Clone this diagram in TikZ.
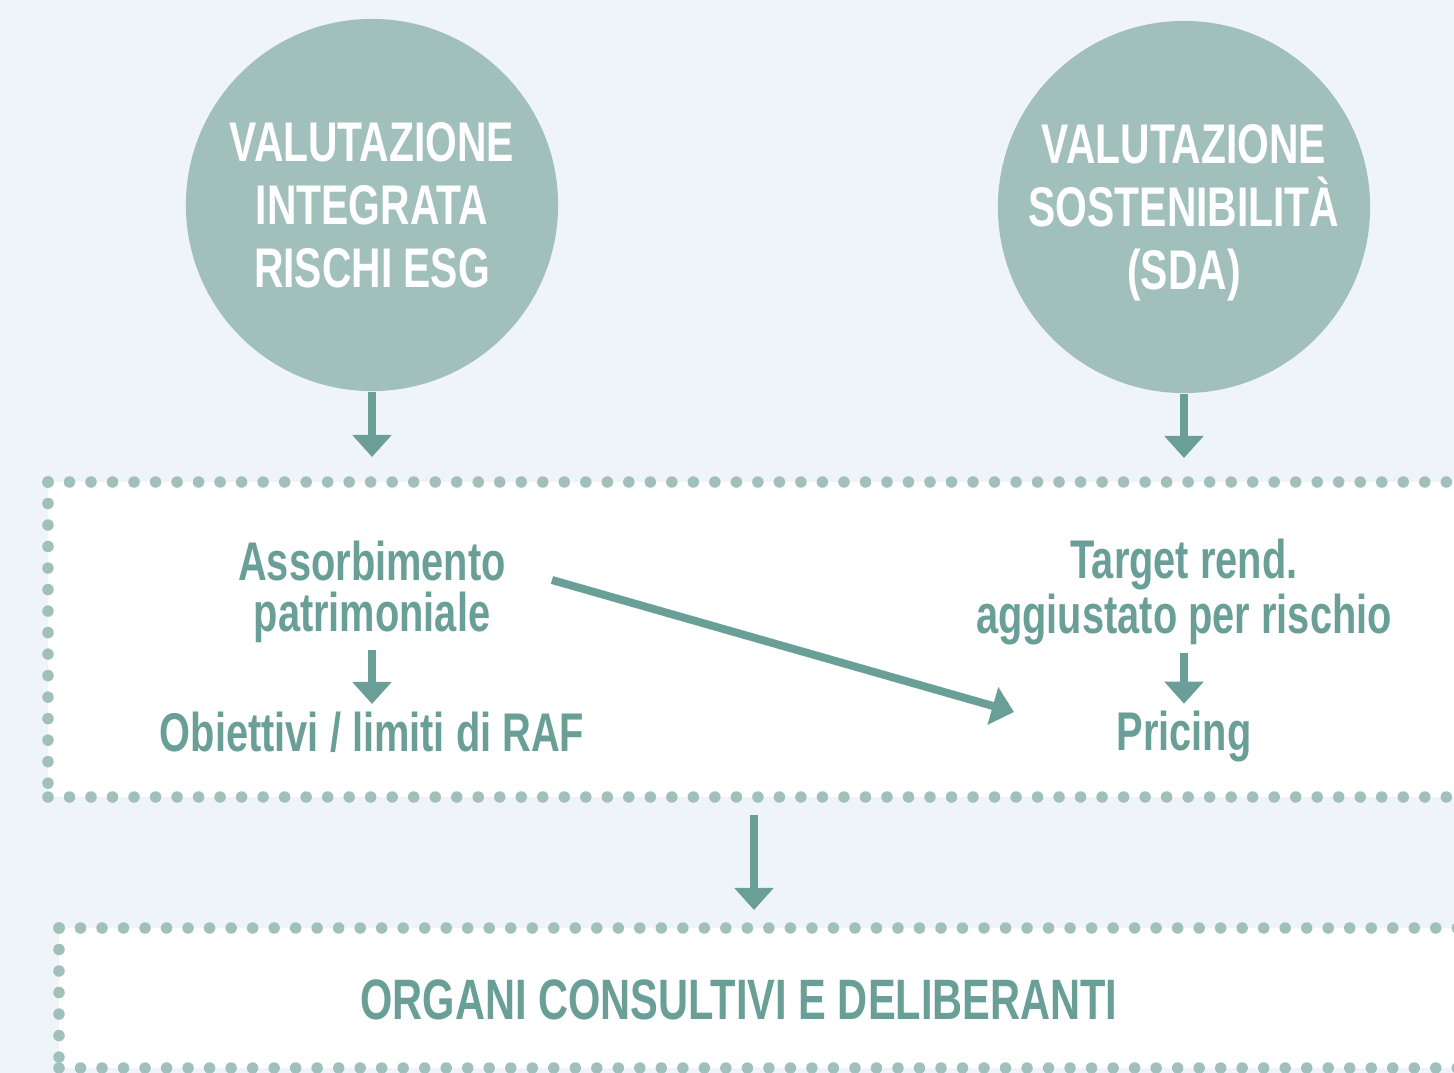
\documentclass[tikz,border=0pt]{standalone}
\usepackage{fontspec}
\setmainfont{Liberation Sans}[FakeStretch=0.73]
\usetikzlibrary{arrows.meta}

\definecolor{bgblue}{HTML}{EFF4F8}
\definecolor{sage}{HTML}{A2C0BB}
\definecolor{tealdark}{HTML}{6A9F98}

\begin{document}
\begin{tikzpicture}[x=0.01cm, y=-0.01cm,
  bubble/.style={circle, fill=sage, minimum size=3.72cm, inner sep=0pt, text=white, align=center,
    font=\bfseries\fontsize{15.9}{17.9}\selectfont},
  label/.style={text=tealdark, align=center, inner sep=2pt, font=\bfseries\fontsize{15.5}{14.3}\selectfont},
  dotline/.style={draw=sage, line width=0.115cm, line cap=round, dash pattern=on 0pt off 0.215cm},
  flow/.style={draw=tealdark, line width=0.08cm, -{Triangle[width=0.38cm,length=0.22cm]}},]
% background
\clip (0,0) rectangle (1454,1073);
\fill[bgblue] (0,0) rectangle (1454,1073);
% panels
\fill[white] (48,482) rectangle (1500,797);
\draw[dotline] (48,482) -- (1500,482);
\draw[dotline] (48,797) -- (1500,797);
\draw[dotline] (48,482) -- (48,797);
\fill[white] (59,928) rectangle (1500,1068);
\draw[dotline] (59,928) -- (1500,928);
\draw[dotline] (59,1068) -- (1500,1068);
\draw[dotline] (59,928) -- (59,1068);
% nodes
\node[bubble] (esg) at (372,205) {VALUTAZIONE\\INTEGRATA\\RISCHI ESG};
\node[bubble] (sda) at (1184,207) {VALUTAZIONE\\SOSTENIBILITÀ\\\smash{(SDA)}};
\node[label] (assorb) at (372,592) {Assorbimento\\patrimoniale};
\node[label] (raf) at (372,732) {Obiettivi / limiti di RAF};
\node[label] (target) at (1184,592) {Target rend.\\aggiustato per rischio};
\node[label] (pricing) at (1184,737) {Pricing};
\node[label, font=\bfseries\fontsize{16.2}{16}\selectfont] (organi) at (739,1000) {ORGANI CONSULTIVI E DELIBERANTI};
% arrow ends
\coordinate (esgtip) at (372,457);
\coordinate (sdatip) at (1184,458);
\coordinate (diagstart) at (552,580);
\coordinate (diagtip) at (1014,712);
\coordinate (downstart) at (754,815);
\coordinate (downtip) at (754,910);
% edges
\draw[flow] (esg.south) -- (esgtip);
\draw[flow] (sda.south) -- (sdatip);
\draw[flow] (assorb) -- (raf);
\draw[flow] (target) -- (pricing);
\draw[flow] (diagstart) -- (diagtip);
\draw[flow] (downstart) -- (downtip);
\end{tikzpicture}
\end{document}
